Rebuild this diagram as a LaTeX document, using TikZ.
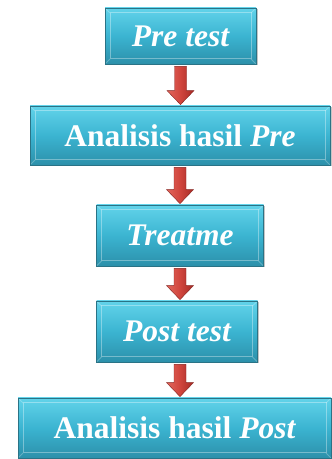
\documentclass[tikz,border=0pt]{standalone}
\usepackage{fontspec}
\setmainfont{Liberation Serif}
\usetikzlibrary{calc,shadows}
\definecolor{boxtop}{HTML}{62D3EA}
\definecolor{boxmid}{HTML}{3BB4D1}
\definecolor{boxbot}{HTML}{2C90AA}
\definecolor{boxedge}{HTML}{2A7386}
\definecolor{arrL}{HTML}{E2665C}
\definecolor{arrM}{HTML}{D0453D}
\definecolor{arrR}{HTML}{A52A25}
\tikzset{
  flowbox/.style={draw=boxedge, line width=0.8pt, top color=boxtop, bottom color=boxbot, middle color=boxmid,
    drop shadow={shadow xshift=1.5pt, shadow yshift=-1.5pt, fill=black!45, opacity=0.5},
    text=white, font=\fontsize{31.5}{33}\selectfont\bfseries, inner sep=0pt,
    path picture={
      \draw[white, opacity=0.35, line width=1pt]
        ($(path picture bounding box.south west)+(5pt,5pt)$) rectangle ($(path picture bounding box.north east)+(-5pt,-5pt)$);
      \draw[white, opacity=0.25, line width=0.8pt]
        (path picture bounding box.north west) -- ($(path picture bounding box.north west)+(5pt,-5pt)$)
        (path picture bounding box.north east) -- ($(path picture bounding box.north east)+(-5pt,-5pt)$)
        (path picture bounding box.south west) -- ($(path picture bounding box.south west)+(5pt,5pt)$)
        (path picture bounding box.south east) -- ($(path picture bounding box.south east)+(-5pt,5pt)$);
    }},
  redarrow/.style={left color=arrL, right color=arrR, middle color=arrM, draw=arrR!80!black, line width=0.4pt}
}
\newcommand\blockarrow[3][0pt]{%
  \coordinate (srcA) at ($(#2.south)+(#1,-2pt)$);
  \coordinate (tipA) at (srcA |- #3.north);
  \path[redarrow] ($(srcA)+(-6pt,0pt)$) -- ($(tipA)+(-6pt,15pt)$) -- ($(tipA)+(-13.5pt,15pt)$)
    -- ($(tipA)+(0pt,1pt)$) -- ($(tipA)+(13.5pt,15pt)$) -- ($(tipA)+(6pt,15pt)$)
    -- ($(srcA)+(6pt,0pt)$) -- cycle;}
\begin{document}
\begin{tikzpicture}[x=1pt,y=1pt]
\useasboundingbox (0,0) rectangle (332,459);
\node[flowbox, minimum width=151pt, minimum height=56pt] (b1) at (180.5,423) {\itshape Pre test};
\node[flowbox, minimum width=300pt, minimum height=59pt] (b2) at (180,323.5) {Analisis hasil \itshape Pre};
\node[flowbox, minimum width=167pt, minimum height=61pt] (b3) at (180,223.5) {\itshape Treatme};
\node[flowbox, minimum width=161pt, minimum height=61pt] (b4) at (177,127.5) {\itshape Post test};
\node[flowbox, minimum width=313pt, minimum height=60pt] (b5) at (174.5,31) {Analisis hasil \itshape Post};
\blockarrow{b1}{b2}
\blockarrow{b2}{b3}
\blockarrow{b3}{b4}
\blockarrow[3pt]{b4}{b5}
\end{tikzpicture}
\end{document}
